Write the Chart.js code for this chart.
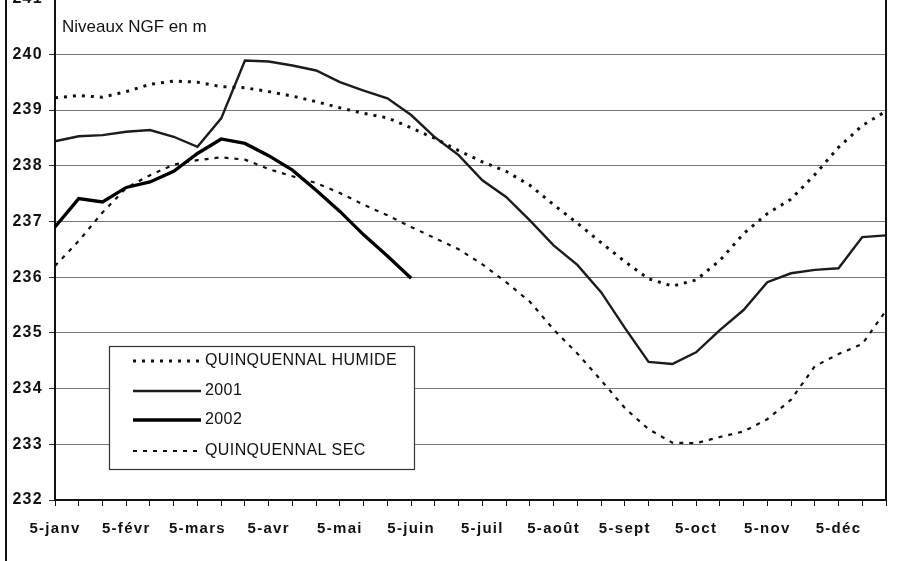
<!DOCTYPE html>
<html>
<head>
<meta charset="utf-8">
<script src="https://cdn.jsdelivr.net/npm/chart.js@4/dist/chart.umd.min.js"></script>
<style>
  html, body { margin: 0; padding: 0; background: #fff; }
  #wrap { position: relative; width: 924px; height: 561px; overflow: hidden; }
  #wrap canvas { position: absolute; left: 0; top: -17px; }
  #edge { position: absolute; left: 5px; top: 0; width: 2px; height: 561px; background: #111; }
</style>
</head>
<body>
<div id="wrap">
  <canvas id="chart" width="924" height="578"></canvas>
  <div id="edge"></div>
</div>
<script>
// dekads: 5, 15, 25 of each month
var months = ["janv", "févr", "mars", "avr", "mai", "juin", "juil", "août", "sept", "oct", "nov", "déc"];
var days = [5, 15, 25];
var labels = [];
months.forEach(function (m) { days.forEach(function (d) { labels.push(d + "-" + m); }); });

var humide = [239.22, 239.26, 239.23, 239.33, 239.46, 239.52, 239.50, 239.42, 239.40, 239.33,
              239.25, 239.15, 239.04, 238.94, 238.86, 238.68, 238.49, 238.27, 238.07, 237.90,
              237.65, 237.30, 236.97, 236.62, 236.28, 235.97, 235.84, 235.95, 236.30, 236.78,
              237.14, 237.40, 237.84, 238.33, 238.72, 238.98];
var y2001 = [238.44, 238.53, 238.55, 238.61, 238.64, 238.52, 238.34, 238.85, 239.89, 239.87,
             239.80, 239.71, 239.50, 239.35, 239.21, 238.91, 238.51, 238.19, 237.74, 237.44,
             237.02, 236.57, 236.22, 235.73, 235.09, 234.48, 234.44, 234.65, 235.05, 235.41,
             235.91, 236.07, 236.13, 236.16, 236.72, 236.75];
var y2002 = [236.90, 237.41, 237.35, 237.61, 237.71, 237.90, 238.22, 238.48, 238.40, 238.18,
             237.92, 237.56, 237.18, 236.76, 236.38, 235.98, null, null, null, null,
             null, null, null, null, null, null, null, null, null, null,
             null, null, null, null, null, null];
var sec = [236.20, 236.65, 237.16, 237.60, 237.83, 238.02, 238.10, 238.15, 238.11, 237.94,
           237.81, 237.69, 237.51, 237.30, 237.11, 236.90, 236.70, 236.50, 236.23, 235.91,
           235.56, 235.06, 234.63, 234.15, 233.65, 233.27, 233.03, 233.02, 233.13, 233.23,
           233.45, 233.80, 234.40, 234.62, 234.80, 235.40];
var yMin = 232, yMax = 241;
var unitText = "Niveaux NGF en m";

var FONT = "'Liberation Sans', Arial, sans-serif";
var OFF = 17; // canvas is shifted up by this much

var extras = {
  id: 'extras',
  beforeDraw: function (chart) {
    chart.ctx.letterSpacing = '1.3px';
  },
  afterDraw: function (chart) {
    var c = chart.ctx, a = chart.chartArea;
    c.save();
    c.strokeStyle = '#111';
    c.lineWidth = 2;
    c.beginPath();
    c.moveTo(a.left, a.top); c.lineTo(a.right, a.top); c.lineTo(a.right, a.bottom);
    c.stroke();

    c.letterSpacing = '0px';
    c.fillStyle = '#111';
    c.font = '17px ' + FONT;
    c.textBaseline = 'middle';
    c.fillText(unitText, 62, 27 + OFF);

    // legend
    var bx = 109, by = 346 + OFF, bw = 305, bh = 123;
    c.fillStyle = '#fff';
    c.fillRect(bx, by, bw, bh);
    c.strokeStyle = '#333';
    c.lineWidth = 1.2;
    c.strokeRect(bx + 0.5, by + 0.5, bw, bh);
    var rows = [361, 391, 420, 451];
    c.letterSpacing = '0.4px';
    chart.data.datasets.forEach(function (ds, i) {
      var y = rows[i] + OFF;
      c.strokeStyle = ds.borderColor;
      c.lineWidth = ds.borderWidth;
      c.setLineDash(ds.borderDash || []);
      c.beginPath(); c.moveTo(133, y); c.lineTo(201, y); c.stroke();
      c.setLineDash([]);
      c.fillStyle = '#111';
      c.font = '16px ' + FONT;
      c.fillText(ds.label, 205, y);
    });
    c.restore();
  }
};

var ctx = document.getElementById('chart').getContext('2d');
var myChart = new Chart(ctx, {
  type: 'line',
  data: {
    labels: labels,
    datasets: [
      { label: "QUINQUENNAL HUMIDE", data: humide, borderColor: '#111', borderWidth: 3, borderDash: [3, 6] },
      { label: "2001", data: y2001, borderColor: '#1c1c1c', borderWidth: 2.4 },
      { label: "2002", data: y2002, borderColor: '#000', borderWidth: 3.3 },
      { label: "QUINQUENNAL SEC", data: sec, borderColor: '#111', borderWidth: 2.2, borderDash: [4, 6] }
    ]
  },
  options: {
    responsive: false,
    animation: false,
    layout: { padding: { top: 10, right: 38, left: 0, bottom: 0 } },
    elements: { point: { radius: 0 }, line: { tension: 0, fill: false } },
    plugins: { legend: { display: false }, tooltip: { enabled: false } },
    scales: {
      x: {
        offset: false,
        grid: { drawOnChartArea: false, drawTicks: true, tickLength: 6, tickColor: '#111' },
        border: { color: '#111', width: 2 },
        ticks: {
          autoSkip: false, maxRotation: 0, padding: 14, color: '#111',
          font: { family: FONT, size: 15, weight: 'bold' },
          callback: function (v, i) { return i % 3 === 0 ? this.getLabelForValue(v) : ''; }
        },
        afterFit: function (s) { s.height = 61; }
      },
      y: {
        min: yMin, max: yMax,
        grid: { color: '#777', lineWidth: 1, tickLength: 6, tickColor: '#333' },
        border: { color: '#111', width: 2 },
        ticks: { stepSize: 1, padding: 6, color: '#111', font: { family: FONT, size: 16, weight: 'bold' } },
        afterFit: function (s) { s.width = 55; }
      }
    }
  },
  plugins: [extras]
});
</script>
</body>
</html>
